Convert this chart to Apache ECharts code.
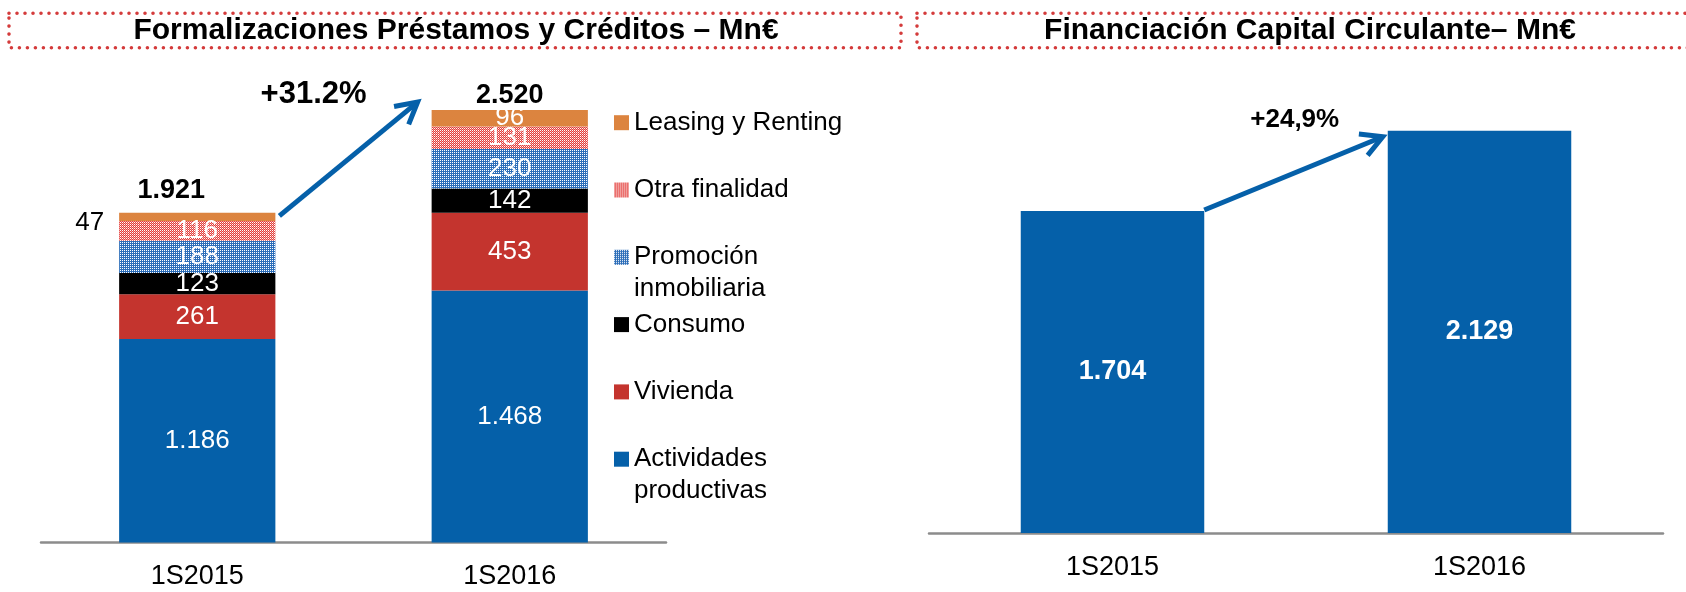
<!DOCTYPE html>
<html>
<head>
<meta charset="utf-8">
<script src="https://cdn.jsdelivr.net/npm/echarts@6/dist/echarts.min.js"></script>
<style>
  html, body { margin: 0; padding: 0; background: #fff; }
  #chart { width: 1686px; height: 592px; }
</style>
</head>
<body>
<div id="chart"></div>
<script>
// datos (Mn€)
const periods = ['1S2015', '1S2016']
const actividades = [1186, 1468]
const vivienda = [261, 453]
const consumo = [123, 142]
const promocion = [188, 230]
const otraFinalidad = [116, 131]
const leasing = [47, 96]
const circulante = [1704, 2129]
const growthLeft = '+31.2%'
const growthRight = '+24,9%'

const font = '"Liberation Sans", Arial, sans-serif'
const blue = '#0560A9'
const fmt = v => String(v).replace(/\B(?=(\d{3})+(?!\d))/g, '.')
const totals = periods.map((p, i) =>
  actividades[i] + vivienda[i] + consumo[i] + promocion[i] + otraFinalidad[i] + leasing[i])

// trama punteada como en el original
function dotPattern(cells) {
  const c = document.createElement('canvas')
  c.width = 2
  c.height = 2
  const ctx = c.getContext('2d')
  cells.forEach((col, i) => {
    ctx.fillStyle = col
    ctx.fillRect(i % 2, Math.floor(i / 2), 1, 1)
  })
  return { image: c, repeat: 'repeat' }
}

// leyenda: línea vacía arriba y abajo para que el icono quede a la altura de la primera línea
const legendNames = {
  'Promoción inmobiliaria': '\nPromoción\ninmobiliaria',
  'Actividades productivas': '\nActividades\nproductivas'
}

const segLabel = {
  show: true,
  position: 'inside',
  color: '#fff',
  fontFamily: font,
  fontSize: 26,
  formatter: p => fmt(p.value)
}

function stackSeries(name, data, color) {
  return {
    name,
    type: 'bar',
    stack: 'total',
    barWidth: '50%',
    xAxisIndex: 0,
    yAxisIndex: 0,
    itemStyle: { color },
    label: segLabel,
    data
  }
}

const chart = echarts.init(document.getElementById('chart'))

chart.setOption({
  animation: false,
  grid: [
    { left: 41, width: 625, top: 62, bottom: 49.5 },
    { left: 929, width: 734, top: 60.6, bottom: 59 }
  ],
  legend: {
    orient: 'vertical',
    left: 614,
    top: 74.7,
    padding: 0,
    icon: 'rect',
    itemWidth: 15,
    itemHeight: 15,
    itemGap: -28.7,
    selectedMode: false,
    data: ['Leasing y Renting', 'Otra finalidad', 'Promoción inmobiliaria', 'Consumo', 'Vivienda', 'Actividades productivas'],
    formatter: name => legendNames[name] || '\n' + name + '\n',
    textStyle: { fontFamily: font, fontSize: 26, color: '#000', lineHeight: 32 }
  },
  xAxis: [0, 1].map(g => ({
    type: 'category',
    gridIndex: g,
    data: periods,
    axisTick: { show: false },
    axisLine: { lineStyle: { color: '#8C8C8C', width: 2.5 } },
    axisLabel: { color: '#000', fontFamily: font, fontSize: 27, margin: 21 }
  })),
  yAxis: [
    { type: 'value', gridIndex: 0, min: 0, max: 2800, show: false },
    { type: 'value', gridIndex: 1, min: 0, max: 2500, show: false }
  ],
  series: [
    stackSeries('Actividades productivas', actividades, blue),
    stackSeries('Vivienda', vivienda, '#C4342E'),
    stackSeries('Consumo', consumo, '#000'),
    stackSeries('Promoción inmobiliaria', promocion, dotPattern(['#fff', '#2D6EB9', '#2D6EB9', '#2D6EB9'])),
    stackSeries('Otra finalidad', otraFinalidad, dotPattern(['#fff', '#E2403C', '#E2403C', '#F4A0A0'])),
    stackSeries('Leasing y Renting', leasing.map((v, i) => i === 0
      ? { value: v, label: { position: 'left', color: '#000', distance: 15, offset: [0, 6] } }
      : v), '#DC843F'),
    {
      name: 'Total',
      type: 'scatter',
      xAxisIndex: 0,
      yAxisIndex: 0,
      symbolSize: 0,
      silent: true,
      itemStyle: { opacity: 1 },
      data: totals.map((v, i) => ({ value: v, label: { offset: i === 0 ? [-26, -8] : [0, -1] } })),
      label: {
        show: true,
        position: 'top',
        distance: 0,
        color: '#000',
        opacity: 1,
        fontFamily: font,
        fontWeight: 'bold',
        fontSize: 27,
        lineHeight: 28,
        formatter: p => fmt(p.value)
      }
    },
    {
      name: 'Capital circulante',
      type: 'bar',
      xAxisIndex: 1,
      yAxisIndex: 1,
      barWidth: '50%',
      itemStyle: { color: blue },
      label: {
        show: true,
        position: 'inside',
        color: '#fff',
        fontFamily: font,
        fontWeight: 'bold',
        fontSize: 27,
        formatter: p => fmt(p.value)
      },
      data: circulante
    }
  ]
})

// flechas de crecimiento y cabeceras, situadas a partir de las escalas
function px(g, cat, val) {
  return chart.convertToPixel({ xAxisIndex: g, yAxisIndex: g }, [cat, val])
}

function arrow(from, to, width) {
  const dx = from[0] - to[0]
  const dy = from[1] - to[1]
  const len = Math.sqrt(dx * dx + dy * dy)
  const ux = dx / len
  const uy = dy / len
  const arm = 24
  const rot = a => [to[0] + arm * (ux * Math.cos(a) - uy * Math.sin(a)), to[1] + arm * (ux * Math.sin(a) + uy * Math.cos(a))]
  const st = { stroke: blue, lineWidth: width, fill: 'none', lineJoin: 'miter' }
  return [
    { type: 'line', shape: { x1: from[0], y1: from[1], x2: to[0] + ux * 2, y2: to[1] + uy * 2 }, style: st },
    { type: 'polyline', shape: { points: [rot(0.5), to, rot(-0.5)] }, style: st }
  ]
}

const a0 = px(0, periods[0], totals[0])
const a1 = px(0, periods[1], totals[1])
const halfL = (a1[0] - a0[0]) / 4
const leftFrom = [a0[0] + halfL + 4, a0[1] + 3]
const leftTo = [a1[0] - halfL - 14, a1[1] - 8]

const b0 = px(1, periods[0], circulante[0])
const b1 = px(1, periods[1], circulante[1])
const halfR = (b1[0] - b0[0]) / 4
const rightFrom = [b0[0] + halfR, b0[1] - 1]
const rightTo = [b1[0] - halfR - 5, b1[1] + 6]

const boxStyle = { fill: 'none', stroke: '#D43B3B', lineWidth: 3.6, lineDash: [0, 8], lineCap: 'round' }
const headText = (x, text) => ({
  type: 'text', x, y: 30.5,
  style: { text, fill: '#000', font: 'bold 30px ' + font, textAlign: 'center', textVerticalAlign: 'middle' }
})
const growthText = (pos, text, size) => ({
  type: 'text', x: pos[0], y: pos[1],
  style: { text, fill: '#000', font: 'bold ' + size + 'px ' + font, textAlign: 'center', textVerticalAlign: 'middle' }
})

chart.setOption({
  graphic: [
    { type: 'rect', shape: { x: 9, y: 13.3, width: 892, height: 34.4 }, style: boxStyle },
    { type: 'rect', shape: { x: 917, y: 13.3, width: 800, height: 34.4 }, style: boxStyle },
    headText(456, 'Formalizaciones Préstamos y Créditos – Mn€'),
    headText(1310, 'Financiación Capital Circulante– Mn€'),
    ...arrow(leftFrom, leftTo, 5),
    ...arrow(rightFrom, rightTo, 5),
    growthText([leftTo[0] - 104, leftTo[1] - 8], growthLeft, 31),
    growthText([rightTo[0] - 88, rightTo[1] - 17], growthRight, 26)
  ]
})
</script>
</body>
</html>
